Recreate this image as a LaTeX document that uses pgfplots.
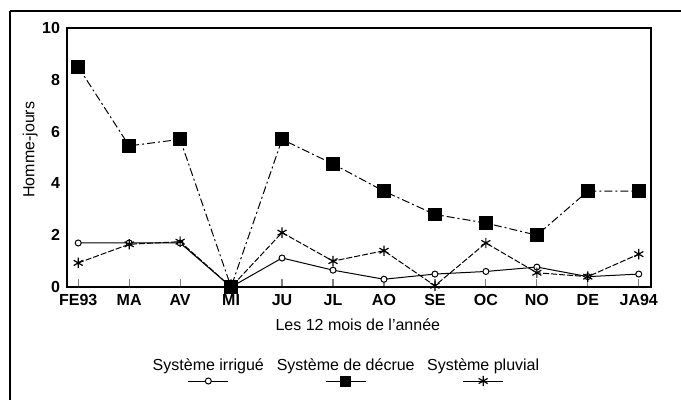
\documentclass[border=0pt]{standalone}
\usepackage{fontspec}
\setmainfont{Liberation Sans}
\usepackage{pgfplots}
\pgfplotsset{compat=1.18}

\newcommand{\lfont}{\fontsize{8}{9.6}\selectfont}

% legend samples: text above, line + mark below
\pgfplotsset{
  irrleg/.style={legend image code/.code={
    \path (-33pt,0pt) (33pt,0pt);
    \node[inner sep=0pt,anchor=base,font=\lfont] at (0pt,5.5pt) {Système irrigué};
    \draw[black,solid,line width=0.5pt] (-10pt,0pt) -- (10pt,0pt);
    \draw[black,solid,line width=0.5pt] plot[mark=*,mark size=1.5pt,mark options={fill=white}] coordinates {(0pt,0pt)};
  }},
  decleg/.style={legend image code/.code={
    \path (-33pt,0pt) (33pt,0pt);
    \node[inner sep=0pt,anchor=base,font=\lfont] at (0pt,5.5pt) {Système de décrue};
    \draw[black,solid,line width=0.5pt] (-10pt,0pt) -- (10pt,0pt);
    \draw[black,solid] plot[mark=square*,mark size=2.5pt] coordinates {(0pt,0pt)};
  }},
  pluleg/.style={legend image code/.code={
    \path (-33pt,0pt) (33pt,0pt);
    \node[inner sep=0pt,anchor=base,font=\lfont] at (0pt,5.5pt) {Système pluvial};
    \draw[black,solid,line width=0.5pt] (-10pt,0pt) -- (10pt,0pt);
    \draw[black,solid,line width=0.6pt] plot[mark=asterisk,mark size=2.6pt] coordinates {(0pt,0pt)};
  }},
}

\begin{document}
\begin{tikzpicture}
\path[use as bounding box] (-33.5pt,-58.5pt) rectangle (307pt,143.5pt);
\begin{axis}[
    at={(0pt,0pt)}, anchor=south west,
    width=292pt, height=129.5pt, scale only axis,
    xmin=-0.22, xmax=11.24,
    ymin=0, ymax=10,
    xtick={0,...,11},
    xticklabels={FE93,MA,AV,MI,JU,JL,AO,SE,OC,NO,DE,JA94},
    ytick={0,2,4,6,8,10},
    tick align=inside,
    xtick pos=lower,
    ytick pos=left,
    major tick length=4pt,
    ytick style={draw=none},
    xtick style={line width=0.6pt},
    axis line style={line width=0.7pt},
    tick label style={font=\lfont\bfseries},
    /pgf/number format/assume math mode=true,
    xlabel={Les 12 mois de l'année},
    ylabel={Homme-jours},
    label style={font=\lfont},
    xlabel style={at={(axis description cs:0.498,-0.147)},anchor=center},
    ylabel style={at={(axis description cs:-0.063,0.53)},anchor=center},
    legend columns=3,
    legend style={at={(axis description cs:0.479,-0.258)},anchor=north,
        draw=none,fill=none,column sep=0pt,nodes={inner sep=0pt}},
]
\addplot[black,line width=0.5pt,mark=*,mark size=1.5pt,mark options={fill=white,solid},irrleg]
coordinates {(0,1.7) (1,1.7) (2,1.7) (3,0) (4,1.12) (5,0.65) (6,0.3) (7,0.5) (8,0.6) (9,0.77) (10,0.4) (11,0.5)};
\addlegendentry{}
\addplot[black,line width=0.5pt,dash pattern=on 4pt off 1.5pt on 1pt off 1.5pt,mark=square*,mark size=3.2pt,mark options={solid},decleg]
coordinates {(0,8.5) (1,5.45) (2,5.7) (3,0) (4,5.7) (5,4.75) (6,3.7) (7,2.8) (8,2.47) (9,2.0) (10,3.7) (11,3.7)};
\addlegendentry{}
\addplot[black,line width=0.5pt,dash pattern=on 3pt off 1pt,mark=asterisk,mark size=2.6pt,mark options={solid,line width=0.6pt},pluleg]
coordinates {(0,0.93) (1,1.65) (2,1.75) (3,0) (4,2.1) (5,1.0) (6,1.4) (7,0.05) (8,1.7) (9,0.55) (10,0.4) (11,1.27)};
\addlegendentry{}
\end{axis}
% outer frame of the page
\draw[line width=1pt] (-28.5pt,138pt) -- (307pt,138pt);
\draw[line width=1pt] (-28.5pt,138pt) -- (-28.5pt,-56.5pt);
\end{tikzpicture}
\end{document}
